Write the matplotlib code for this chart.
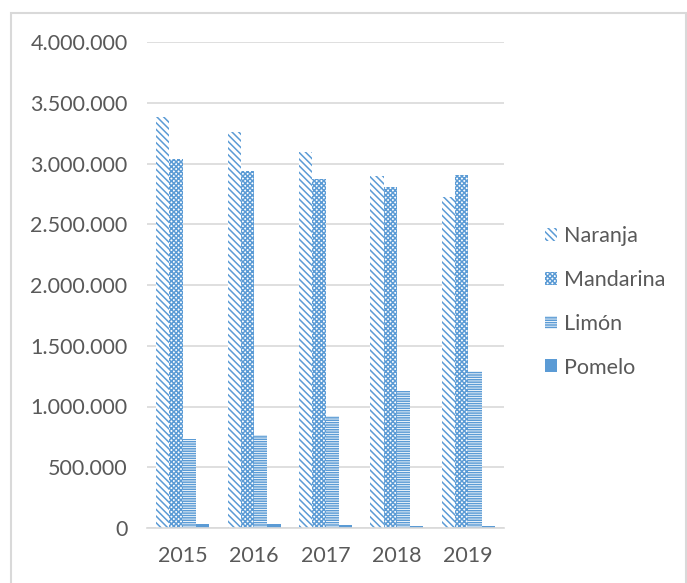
import matplotlib
matplotlib.use("Agg")
import matplotlib.pyplot as plt
from matplotlib.ticker import FuncFormatter, MultipleLocator
from matplotlib.patches import Rectangle
import numpy as np

years = ["2015", "2016", "2017", "2018", "2019"]
series_names = ["Naranja", "Mandarina", "Limón", "Pomelo"]
naranja = [3380000, 3260000, 3095000, 2897000, 2724000]
mandarina = [3037000, 2938000, 2872000, 2807000, 2905000]
limon = [732000, 765000, 922000, 1128000, 1292000]
pomelo = [33000, 33000, 25000, 20000, 20000]

plt.rcParams['font.family'] = ['Lato', 'DejaVu Sans']
plt.rcParams['hatch.linewidth'] = 1.1

BLUE = "#5B9BD5"
TXT = "#595959"
GRID = "#D9D9D9"

fig = plt.figure(figsize=(6.87, 5.83), dpi=100)
ax = fig.add_axes([147/687, 1-528/583, (504-147)/687, (528-42)/583])

x = np.arange(len(years))
w = 0.186
hatches = ['\\\\\\\\\\', 'xxxxxxx', '-------', None]
data = [naranja, mandarina, limon, pomelo]
for i, (name, vals, h) in enumerate(zip(series_names, data, hatches)):
    pos = x + (i - 1.5) * w
    if h is None:
        ax.bar(pos, vals, width=w, color=BLUE, edgecolor='none', label=name, zorder=2)
    else:
        ax.bar(pos, vals, width=w, facecolor='white', edgecolor=BLUE, hatch=h,
               linewidth=0, label=name, zorder=2)

ax.set_xlim(-0.5, len(years) - 0.5)
ax.set_ylim(0, 4000000)
ax.yaxis.set_major_locator(MultipleLocator(500000))
ax.yaxis.set_major_formatter(FuncFormatter(lambda v, p: f"{int(v):,}".replace(",", ".")))
ax.set_xticks(x)
ax.set_xticklabels(years)
ax.grid(axis='y', color=GRID, linewidth=1.2, zorder=0)
ax.set_axisbelow(True)
for s in ['top', 'right', 'left']:
    ax.spines[s].set_visible(False)
ax.spines['bottom'].set_color(GRID)
ax.spines['bottom'].set_linewidth(1.2)
ax.tick_params(axis='both', length=0, labelsize=15.5, labelcolor=TXT)
ax.tick_params(axis='y', pad=14)
ax.tick_params(axis='x', pad=13)

leg = fig.legend(loc='center left', bbox_to_anchor=(545/687, 1-302/583), frameon=False,
                 fontsize=15.5, labelcolor=TXT, handlelength=0.55, handleheight=0.55,
                 handletextpad=0.35, labelspacing=1.1, borderaxespad=0, borderpad=0)

fig.patches.append(Rectangle((11/687, -0.1), (686-11)/687, (583-13)/583 + 0.1,
                             transform=fig.transFigure, fill=False, edgecolor=GRID,
                             linewidth=1.5, zorder=0))

fig.savefig("out.png", dpi=100)
